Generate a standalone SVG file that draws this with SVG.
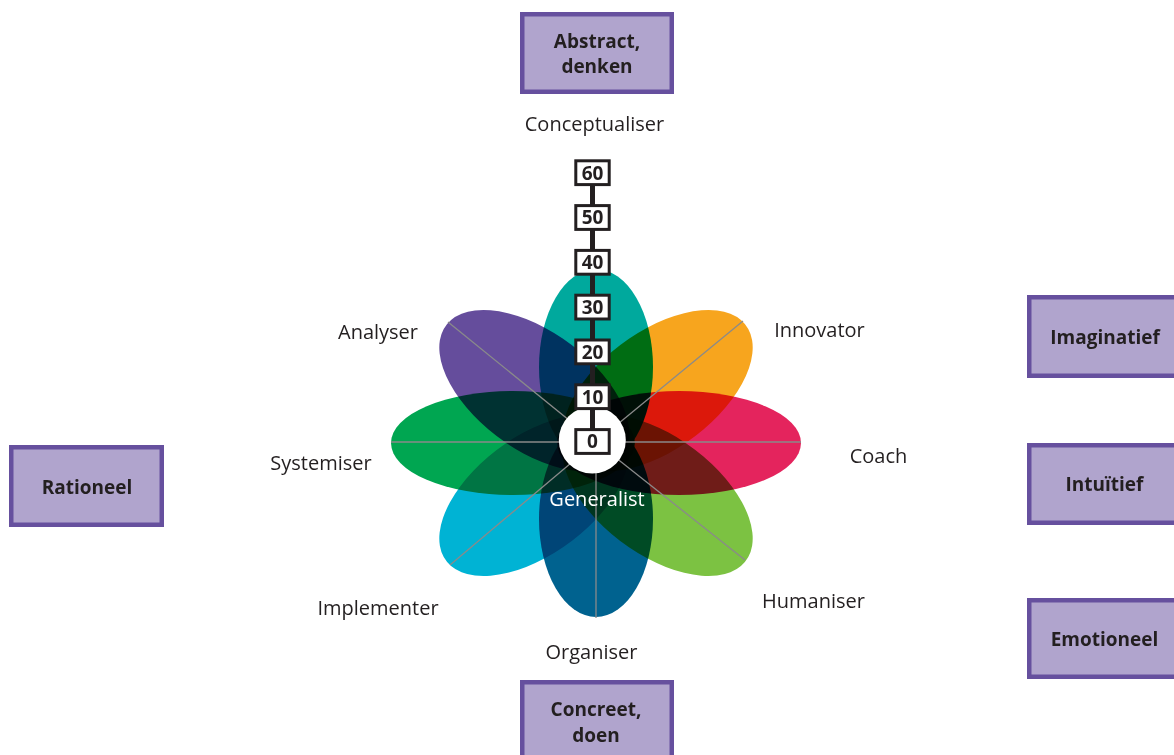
<svg xmlns="http://www.w3.org/2000/svg" width="1174" height="755" viewBox="0 0 1174 755">
<style>
.lbl{font-family:"Open Sans","Liberation Sans",sans-serif;font-size:20px;fill:#231F20;text-anchor:middle}
.box rect{fill:#B0A4CD;stroke:#66509E;stroke-width:4.5}
.box text{font-family:"Open Sans","Liberation Sans",sans-serif;font-size:19px;font-weight:bold;fill:#231F20;text-anchor:middle}
.petal{mix-blend-mode:multiply}
.axis{stroke:#8A8A8A;stroke-width:1.3;fill:none}
.tick rect{fill:#fff;stroke:#231F20;stroke-width:3}
.tick text{font-family:"Open Sans","Liberation Sans",sans-serif;font-size:19px;font-weight:bold;fill:#231F20;text-anchor:middle}
</style>
<rect width="1174" height="755" fill="#fff"/>
<g id="flower" style="isolation:isolate">
<g transform="translate(596,443) scale(1.178,1)">
<ellipse class="petal" fill="#00A99D" cx="0" cy="-76" rx="48.4" ry="98"/>
<ellipse class="petal" fill="#F7A51E" cx="0" cy="-74" rx="55" ry="100" transform="rotate(45)"/>
<ellipse class="petal" fill="#E4245D" cx="0" cy="-70.5" rx="52" ry="103.5" transform="rotate(90)"/>
<ellipse class="petal" fill="#7CC242" cx="0" cy="-74" rx="55" ry="100" transform="rotate(135)"/>
<ellipse class="petal" fill="#00628F" cx="0" cy="-76" rx="48.4" ry="98" transform="rotate(180)"/>
<ellipse class="petal" fill="#00B3D4" cx="0" cy="-74" rx="55" ry="100" transform="rotate(225)"/>
<ellipse class="petal" fill="#00A651" cx="0" cy="-70.5" rx="52" ry="103.5" transform="rotate(270)"/>
<ellipse class="petal" fill="#654D9C" cx="0" cy="-74" rx="55" ry="100" transform="rotate(315)"/>
</g>
</g>
<g id="connectors">
<line class="axis" x1="391" y1="442" x2="801" y2="442"/>
<line class="axis" x1="596" y1="442" x2="596" y2="618"/>
<line class="axis" x1="596" y1="442" x2="448" y2="322"/>
<line class="axis" x1="596" y1="442" x2="743" y2="321"/>
<line class="axis" x1="596" y1="442" x2="450" y2="565"/>
<line class="axis" x1="596" y1="442" x2="745" y2="560"/>
</g>
<g id="center">
<circle cx="592.3" cy="440" r="33.5" fill="#fff"/>
<text x="597" y="506" class="lbl" style="fill:#fff">Generalist</text>
</g>
<g id="scale">
<line x1="592.5" y1="172" x2="592.5" y2="441" stroke="#231F20" stroke-width="5"/>
<g class="tick" id="t60"><rect x="575.8" y="160.8" width="33.4" height="23.8"/><text x="592.5" y="179.5">60</text></g>
<g class="tick" id="t50"><rect x="575.8" y="205.6" width="33.4" height="23.8"/><text x="592.5" y="224.3">50</text></g>
<g class="tick" id="t40"><rect x="575.8" y="250.4" width="33.4" height="23.8"/><text x="592.5" y="269.1">40</text></g>
<g class="tick" id="t30"><rect x="575.8" y="295.2" width="33.4" height="23.8"/><text x="592.5" y="313.9">30</text></g>
<g class="tick" id="t20"><rect x="575.8" y="340" width="33.4" height="23.8"/><text x="592.5" y="358.7">20</text></g>
<g class="tick" id="t10"><rect x="575.8" y="384.8" width="33.4" height="23.8"/><text x="592.5" y="403.5">10</text></g>
<g class="tick" id="t0"><rect x="575.8" y="429.6" width="33.4" height="23.8"/><text x="592.5" y="448.3">0</text></g>
</g>
<g id="labels">
<text id="conceptualiser" class="lbl" x="594.5" y="131">Conceptualiser</text>
<text id="innovator" class="lbl" x="819.5" y="337">Innovator</text>
<text id="coach" class="lbl" x="878.5" y="463">Coach</text>
<text id="humaniser" class="lbl" x="813.5" y="608">Humaniser</text>
<text id="organiser" class="lbl" x="591.5" y="659">Organiser</text>
<text id="implementer" class="lbl" x="378" y="615">Implementer</text>
<text id="systemiser" class="lbl" x="321" y="470">Systemiser</text>
<text id="analyser" class="lbl" x="378" y="339">Analyser</text>
</g>
<g id="abstract" class="box"><rect x="522.25" y="14.25" width="149.5" height="77.5"/><text x="597" y="47.5">Abstract,</text><text x="597" y="73">denken</text></g>
<g id="concreet" class="box"><rect x="522.25" y="682.25" width="149.5" height="100"/><text x="596" y="716">Concreet,</text><text x="596" y="742">doen</text></g>
<g id="rationeel" class="box"><rect x="11.25" y="447.25" width="150.5" height="77.5"/><text x="87" y="494">Rationeel</text></g>
<g id="imaginatief" class="box"><rect x="1029.25" y="297.25" width="160" height="78.5"/><text x="1105" y="344">Imaginatief</text></g>
<g id="intuitief" class="box"><rect x="1029.25" y="445.25" width="160" height="77.5"/><text x="1104.5" y="491">Intuïtief</text></g>
<g id="emotioneel" class="box"><rect x="1029.25" y="600.25" width="160" height="76.5"/><text x="1104.5" y="646">Emotioneel</text></g>
</svg>
